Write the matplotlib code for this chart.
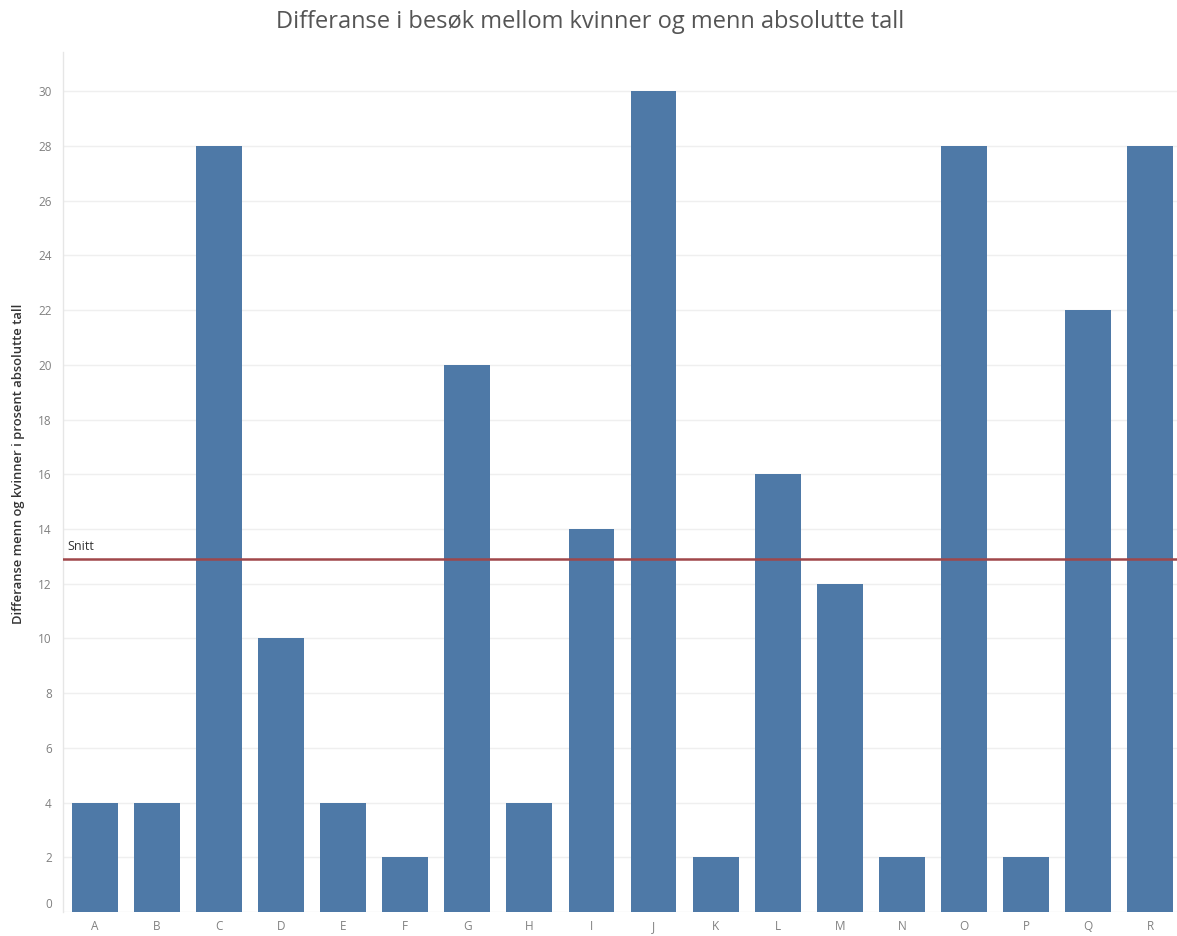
import matplotlib
matplotlib.use("Agg")
import matplotlib.pyplot as plt
import matplotlib.transforms as mtransforms
import numpy as np

categories = list("ABCDEFGHIJKLMNOPQR")
values = [4, 4, 28, 10, 4, 2, 20, 4, 14, 30, 2, 16, 12, 2, 28, 2, 22, 28]
yticks = list(range(0, 31, 2))

plt.rcParams['font.family'] = ['Open Sans', 'DejaVu Sans']

fig = plt.figure(figsize=(11.77, 9.36), dpi=100)
ax = fig.add_axes([0.0535, 0.0256, 0.9465, 0.9188])

x = np.arange(len(categories))
ax.bar(x, values, width=0.74, color='#4e79a7', zorder=3)

mean = float(np.mean(values))
ax.axhline(mean, color='#a0474a', linewidth=1.8, zorder=4)
ax.text(-0.45, mean + 0.25, 'Snitt', fontsize=9, color='#333333', va='bottom', ha='left', zorder=5)

ax.set_xlim(-0.516, 17.435)
ax.set_ylim(0, 31.43)
ax.set_xticks(x)
ax.set_xticklabels(categories)
ax.set_yticks(yticks)
ax.set_yticklabels([str(t) for t in yticks])
ax.tick_params(axis='both', length=0, labelsize=8.5, labelcolor='#808080')
ax.tick_params(axis='y', pad=8)
ax.tick_params(axis='x', pad=6)

# shift the "0" label up a little, like the reference
lbl0 = ax.get_yticklabels()[0]
lbl0.set_transform(lbl0.get_transform() + mtransforms.ScaledTranslation(0, 9/100, fig.dpi_scale_trans))

ax.grid(axis='y', color='#efefef', linewidth=1, zorder=0)
for s in ['top', 'right', 'bottom']:
    ax.spines[s].set_visible(False)
ax.spines['left'].set_color('#e6e6e6')
ax.spines['left'].set_linewidth(1)

ax.set_ylabel('Differanse menn og kvinner i prosent absolutte tall', fontsize=9.4,
              color='#333333', fontweight='semibold')
ax.yaxis.set_label_coords(-0.034, 0.521)

fig.text(0.5015, 0.976, 'Differanse i besøk mellom kvinner og menn absolutte tall',
         ha='center', va='center', fontsize=17, color='#555555')

fig.savefig('out.png', dpi=100, facecolor='white')
